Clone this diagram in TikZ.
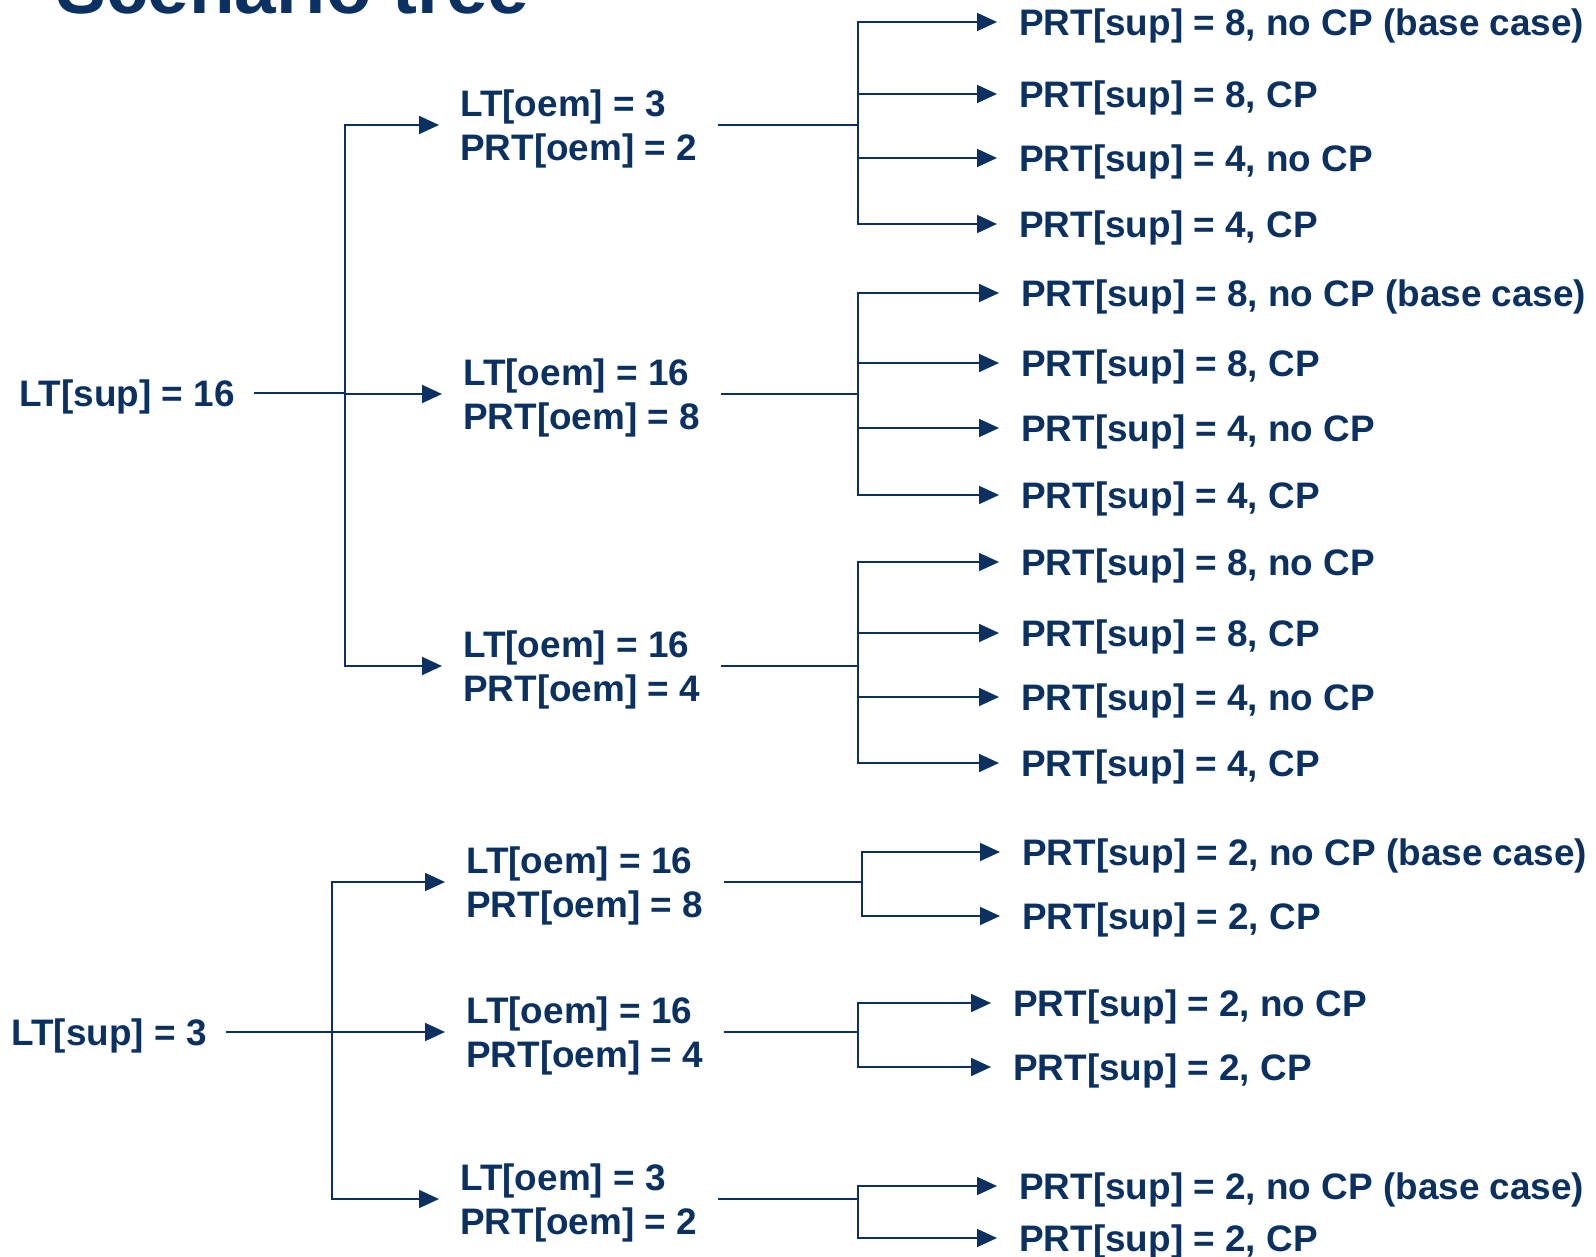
\documentclass[tikz,border=0pt]{standalone}
\usepackage{fontspec}
\setmainfont{Liberation Sans}
\usetikzlibrary{arrows.meta}
\definecolor{treeNavy}{HTML}{0A3161}
\newcommand{\topstrut}{\rule{0pt}{20pt}}
\tikzset{
  >={Triangle[length=4mm, width=3.6mm]},
  tnode/.style={text=treeNavy, font=\fontsize{21}{25}\selectfont\bfseries,
    inner ysep=0pt},
  rootnode/.style={tnode, anchor=east, inner xsep=0.38cm,
    text height=15pt, text depth=0pt},
  oemnode/.style={tnode, anchor=west, inner xsep=0.42cm, align=left},
  leafnode/.style={tnode, anchor=west, inner xsep=0.44cm,
    text height=15pt, text depth=0pt},
  link/.style={line width=1.4pt, draw=treeNavy},
  flow/.style={->, line width=1pt, draw=treeNavy},
}

\begin{document}
\begin{tikzpicture}[x=0.02cm, y=-0.02cm]
  \useasboundingbox (0,0) rectangle (1596,1257);

  % ---- Title (cut at the top) ---------------------------------------------
  \node[tnode, anchor=base west, inner sep=0pt,
    font=\fontsize{42.5}{50}\selectfont\bfseries] (title) at (56,14) {Scenario tree};

  % ---- Roots ---------------------------------------------------------------
  \node[rootnode] (sup16) at (254,393)  {LT[sup] = 16};
  \node[rootnode] (sup3)  at (226,1032) {LT[sup] = 3};

  % ---- OEM nodes -----------------------------------------------------------
  \node[oemnode] (oem3a)  at (439,125)  {\topstrut LT[oem] = 3\\PRT[oem] = 2};
  \node[oemnode] (oem16a) at (442,394)  {\topstrut LT[oem] = 16\\PRT[oem] = 8};
  \node[oemnode] (oem16b) at (442,666)  {\topstrut LT[oem] = 16\\PRT[oem] = 4};
  \node[oemnode] (oem16c) at (445,882)  {\topstrut LT[oem] = 16\\PRT[oem] = 8};
  \node[oemnode] (oem16d) at (445,1032) {\topstrut LT[oem] = 16\\PRT[oem] = 4};
  \node[oemnode] (oem3b)  at (439,1199) {\topstrut LT[oem] = 3\\PRT[oem] = 2};

  % ---- Leaves --------------------------------------------------------------
  \node[leafnode] (a1) at (997,22)   {PRT[sup] = 8, no CP (base case)};
  \node[leafnode] (a2) at (997,94)   {PRT[sup] = 8, CP};
  \node[leafnode] (a3) at (997,158)  {PRT[sup] = 4, no CP};
  \node[leafnode] (a4) at (997,224)  {PRT[sup] = 4, CP};

  \node[leafnode] (b1) at (999,293)  {PRT[sup] = 8, no CP (base case)};
  \node[leafnode] (b2) at (999,363)  {PRT[sup] = 8, CP};
  \node[leafnode] (b3) at (999,428)  {PRT[sup] = 4, no CP};
  \node[leafnode] (b4) at (999,495)  {PRT[sup] = 4, CP};

  \node[leafnode] (c1) at (999,562)  {PRT[sup] = 8, no CP};
  \node[leafnode] (c2) at (999,633)  {PRT[sup] = 8, CP};
  \node[leafnode] (c3) at (999,697)  {PRT[sup] = 4, no CP};
  \node[leafnode] (c4) at (999,763)  {PRT[sup] = 4, CP};

  \node[leafnode] (d1) at (1000,852) {PRT[sup] = 2, no CP (base case)};
  \node[leafnode] (d2) at (1000,916) {PRT[sup] = 2, CP};

  \node[leafnode] (e1) at (991,1003) {PRT[sup] = 2, no CP};
  \node[leafnode] (e2) at (991,1067) {PRT[sup] = 2, CP};

  \node[leafnode] (f1) at (997,1186) {PRT[sup] = 2, no CP (base case)};
  \node[leafnode] (f2) at (997,1238) {PRT[sup] = 2, CP};

  % ---- Junctions -----------------------------------------------------------
  \coordinate (j16) at (345,393);
  \coordinate (j3)  at (332,1032);
  \coordinate (ka)  at (858,125);
  \coordinate (kb)  at (858,394);
  \coordinate (kc)  at (858,666);
  \coordinate (kd)  at (862,882);
  \coordinate (ke)  at (858,1032);
  \coordinate (kf)  at (858,1199);

  % ---- Edges ---------------------------------------------------------------
  % LT[sup] = 16 -> three oem nodes
  \draw[link] (sup16) -- (j16);
  \draw[flow] (j16) |- (oem3a.west);
  \draw[flow] (j16) |- (oem16a.west);
  \draw[flow] (j16) |- (oem16b.west);

  % LT[sup] = 3 -> three oem nodes
  \draw[link] (sup3) -- (j3);
  \draw[flow] (j3) |- (oem16c.west);
  \draw[flow] (j3) -- (oem16d.west);
  \draw[flow] (j3) |- (oem3b.west);

  % oem nodes -> leaves
  \draw[link] (oem3a) -- (ka);
  \draw[flow] (ka) |- (a1.west);
  \draw[flow] (ka) |- (a2.west);
  \draw[flow] (ka) |- (a3.west);
  \draw[flow] (ka) |- (a4.west);

  \draw[link] (oem16a) -- (kb);
  \draw[flow] (kb) |- (b1.west);
  \draw[flow] (kb) |- (b2.west);
  \draw[flow] (kb) |- (b3.west);
  \draw[flow] (kb) |- (b4.west);

  \draw[link] (oem16b) -- (kc);
  \draw[flow] (kc) |- (c1.west);
  \draw[flow] (kc) |- (c2.west);
  \draw[flow] (kc) |- (c3.west);
  \draw[flow] (kc) |- (c4.west);

  \draw[link] (oem16c) -- (kd);
  \draw[flow] (kd) |- (d1.west);
  \draw[flow] (kd) |- (d2.west);

  \draw[link] (oem16d) -- (ke);
  \draw[flow] (ke) |- (e1.west);
  \draw[flow] (ke) |- (e2.west);

  \draw[link] (oem3b) -- (kf);
  \draw[flow] (kf) |- (f1.west);
  \draw[flow] (kf) |- (f2.west);

\end{tikzpicture}
\end{document}
